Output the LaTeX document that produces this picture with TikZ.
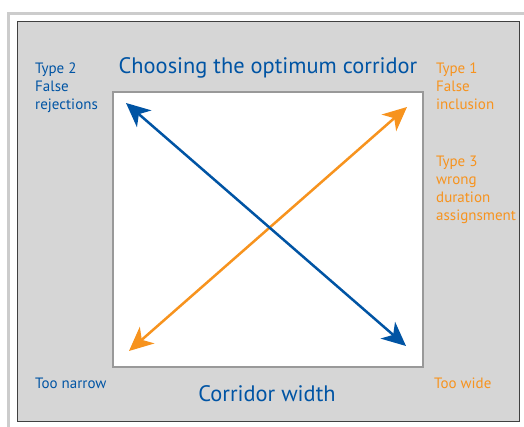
\documentclass[tikz,border=0pt]{standalone}
\usepackage{fontspec}
\setmainfont{PT Sans}
\usetikzlibrary{arrows.meta}
\definecolor{corrblue}{RGB}{0,84,164}
\definecolor{corrorange}{RGB}{247,147,30}
\definecolor{panelgray}{RGB}{214,214,214}

\begin{document}
\begin{tikzpicture}[
		x=1pt, y=1pt,
		every node/.style={inner sep=0pt},
		small_label/.style={font=\fontsize{15}{18}\selectfont, align=left},
		big_label/.style={font=\fontsize{22.4}{26}\selectfont, text=corrblue},
		trend/.style={line width=2.5pt, {Stealth[length=24pt,width=22pt,inset=7pt]}-{Stealth[length=24pt,width=22pt,inset=7pt]}}
	]
  \useasboundingbox (0,0) rectangle (524,427);
  \draw[line width=3pt, gray!40] (8.5,413.5) rectangle (540,-20);
  \draw[fill=panelgray, draw=black!75, line width=1pt] (17,405) rectangle (519.5,5);
  \draw[fill=white, draw=black!40, line width=1.8pt] (113,335) rectangle (423,60);
  \coordinate (narrow_low) at (129,76);
  \coordinate (wide_high) at (407,320);
  \coordinate (narrow_high) at (126,324);
  \coordinate (wide_low) at (406,81);
  \draw[trend, corrorange] (narrow_low) -- (wide_high);
  \draw[trend, corrblue] (narrow_high) -- (wide_low);
  \node (title) [big_label, anchor=base] at (268, 353) {Choosing the optimum corridor};
  \node (axis) [big_label, anchor=base] at (267, 25.3) {Corridor width};
  \node (too_narrow) [small_label, text=corrblue, anchor=base west] at (35, 38) {Too narrow};
  \node (too_wide) [small_label, text=corrorange, anchor=base west] at (434, 38) {Too wide};
  \node (type_two) [small_label, text=corrblue, anchor=north west] at (35, 364) {Type 2\\False\\rejections};
  \node (type_one) [small_label, text=corrorange, anchor=north west] at (436, 364) {Type 1\\False\\inclusion};
  \node (type_three) [small_label, text=corrorange, anchor=north west] at (436, 271) {Type 3\\wrong\\duration\\assignsment};
\end{tikzpicture}
\end{document}
